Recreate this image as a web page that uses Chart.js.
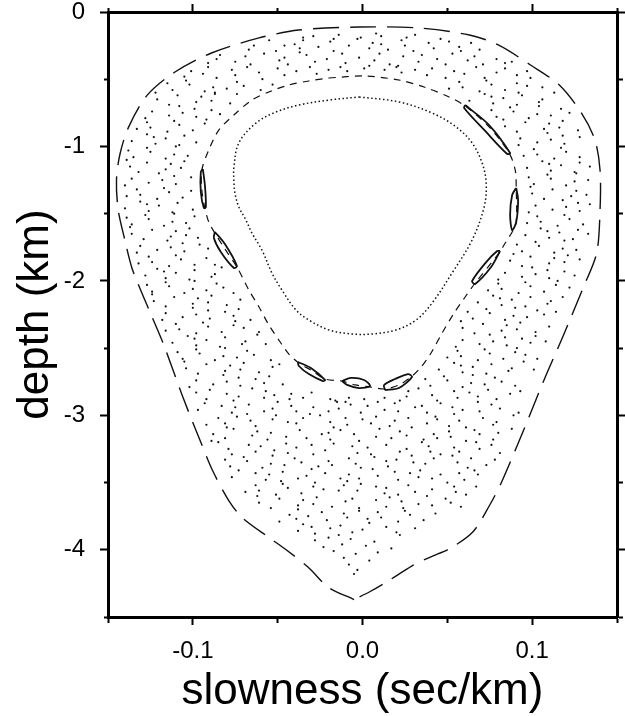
<!DOCTYPE html>
<html><head><meta charset="utf-8">
<script src="https://cdn.jsdelivr.net/npm/chart.js@4.4.1/dist/chart.umd.min.js"></script>
<style>html,body{margin:0;padding:0;background:#fff;}canvas{display:block;}</style>
</head><body>
<canvas id="c" width="625" height="716"></canvas>
<script>
// ---- axis ticks / labels ----
const xLabelValues = [-0.1, 0.0, 0.1];
const xLabelTexts = ['-0.1', '0.0', '0.1'];
const yLabelValues = [0, -1, -2, -3, -4];
const yLabelTexts = ['0', '-1', '-2', '-3', '-4'];

// ---- outermost torus (slowness, depth) ----
const outerCurve = [[-0.005,-4.37],[-0.02,-4.28],[-0.032,-4.13],[-0.045,-4.0],[-0.055,-3.91],[-0.071,-3.76],[-0.079,-3.63],[-0.088,-3.42],[-0.095,-3.21],[-0.106,-2.86],[-0.117,-2.48],[-0.125,-2.24],[-0.132,-2.03],[-0.136,-1.9],[-0.14,-1.7],[-0.144,-1.47],[-0.145,-1.25],[-0.143,-1.06],[-0.138,-0.86],[-0.127,-0.62],[-0.111,-0.45],[-0.089,-0.305],[-0.061,-0.193],[-0.0375,-0.134],[-0.002,-0.112],[0.033,-0.119],[0.063,-0.171],[0.08,-0.245],[0.099,-0.394],[0.116,-0.543],[0.129,-0.751],[0.137,-0.952],[0.14,-1.175],[0.14,-1.473],[0.138,-1.793],[0.13,-2.053],[0.118,-2.417],[0.107,-2.737],[0.095,-3.109],[0.082,-3.496],[0.075,-3.667],[0.065,-3.868],[0.051,-3.994],[0.04,-4.054],[0.029,-4.121],[0.016,-4.225],[0.004,-4.314],[-0.005,-4.37]];

// ---- resonance ring through the island chain ----
const ringCurve = [[-0.0198,-0.491],[0.0009,-0.476],[0.0215,-0.506],[0.0363,-0.558],[0.051,-0.632],[0.0605,-0.699],[0.0746,-0.855],[0.0864,-1.049],[0.09,-1.175],[0.0906,-1.309],[0.0906,-1.562],[0.0882,-1.636],[0.0841,-1.718],[0.0805,-1.793],[0.0664,-2.016],[0.0605,-2.12],[0.054,-2.239],[0.0469,-2.388],[0.0404,-2.536],[0.0345,-2.641],[0.0286,-2.715],[0.0215,-2.774],[0.0133,-2.804],[0.0044,-2.789],[-0.0044,-2.774],[-0.0121,-2.745],[-0.0221,-2.73],[-0.0304,-2.663],[-0.0375,-2.611],[-0.0434,-2.544],[-0.0481,-2.462],[-0.0552,-2.328],[-0.061,-2.194],[-0.067,-2.068],[-0.074,-1.897],[-0.0811,-1.763],[-0.087,-1.644],[-0.0906,-1.562],[-0.0929,-1.458],[-0.0947,-1.324],[-0.0947,-1.175],[-0.0906,-1.026],[-0.0847,-0.878],[-0.0758,-0.766],[-0.0652,-0.655],[-0.0552,-0.595],[-0.0434,-0.543],[-0.0316,-0.513],[-0.0198,-0.491]];

// ---- islands ----
const islands = [
 [[0.0906,-1.309],[0.0917,-1.398],[0.0906,-1.562],[0.0882,-1.622],[0.087,-1.51],[0.0882,-1.361],[0.0906,-1.309]],
 [[0.0811,-1.778],[0.0758,-1.897],[0.0664,-2.023],[0.0646,-2.001],[0.0729,-1.86],[0.0794,-1.778],[0.0811,-1.778]],
 [[0.0133,-2.812],[0.0215,-2.797],[0.0292,-2.715],[0.0268,-2.693],[0.0192,-2.73],[0.0127,-2.775],[0.0133,-2.812]],
 [[-0.0121,-2.745],[-0.0068,-2.722],[0.0009,-2.737],[0.0044,-2.782],[-0.0021,-2.797],[-0.0091,-2.774],[-0.0121,-2.745]],
 [[-0.0381,-2.603],[-0.0304,-2.648],[-0.0221,-2.737],[-0.0233,-2.745],[-0.0316,-2.693],[-0.0375,-2.633],[-0.0381,-2.603]],
 [[-0.087,-1.636],[-0.0811,-1.726],[-0.074,-1.889],[-0.0758,-1.904],[-0.0835,-1.785],[-0.0876,-1.681],[-0.087,-1.636]],
 [[-0.0941,-1.168],[-0.0929,-1.287],[-0.0923,-1.45],[-0.0935,-1.458],[-0.0953,-1.339],[-0.0953,-1.19],[-0.0941,-1.168]],
 [[0.0605,-0.692],[0.0746,-0.841],[0.087,-1.049],[0.0853,-1.056],[0.0723,-0.885],[0.0599,-0.714],[0.0605,-0.692]]
];

// ---- innermost torus ----
const innerCurve = [[-0.002,-0.632],[0.0215,-0.669],[0.041,-0.751],[0.0552,-0.855],[0.0646,-0.974],[0.0705,-1.123],[0.0729,-1.272],[0.0717,-1.45],[0.0646,-1.696],[0.0528,-1.941],[0.041,-2.165],[0.0316,-2.291],[0.0198,-2.365],[0.0056,-2.395],[-0.0062,-2.395],[-0.0198,-2.365],[-0.0316,-2.291],[-0.0392,-2.217],[-0.0475,-2.068],[-0.0534,-1.941],[-0.0593,-1.77],[-0.0652,-1.644],[-0.0687,-1.547],[-0.0729,-1.45],[-0.0752,-1.346],[-0.0758,-1.25],[-0.0758,-1.153],[-0.0729,-0.974],[-0.0628,-0.826],[-0.051,-0.744],[-0.0375,-0.692],[-0.0198,-0.655],[-0.002,-0.632]];

// ---- chaotic sea (slowness, depth) ----
const seaPoints = [
[-.035,-.19],[-.029,-.18],[-.017,-.20],[-.014,-.17],[-.001,-.19],[.008,-.16],[.011,-.18],[.026,-.19],[.031,-.17],[.046,-.20],
[-.067,-.28],[-.064,-.25],[-.055,-.21],[-.051,-.29],[-.040,-.24],[-.037,-.27],[-.035,-.21],[-.026,-.26],[-.019,-.22],[-.017,-.29],[-.008,-.25],[-.003,-.20],[.004,-.27],[.006,-.23],[.015,-.28],[.023,-.21],[.025,-.25],[.030,-.29],[.039,-.23],[.042,-.27],[.051,-.22],[.057,-.26],[.058,-.29],[.064,-.23],[.069,-.28],[-.046,-.25],[.011,-.24],
[-.091,-.38],[-.086,-.35],[-.084,-.32],[-.075,-.37],[-.069,-.33],[-.066,-.39],[-.058,-.31],[-.049,-.36],[-.046,-.34],[-.044,-.39],[-.033,-.32],[-.028,-.37],[-.021,-.35],[-.012,-.31],[-.010,-.38],[-.002,-.34],[.007,-.36],[.010,-.31],[.016,-.39],[.024,-.33],[.033,-.37],[.035,-.32],[.044,-.35],[.049,-.39],[.053,-.31],[.062,-.36],[.066,-.33],[.071,-.39],[.079,-.35],[.084,-.38],[.088,-.37],[-.037,-.30],[.021,-.40],
[-.105,-.48],[-.101,-.44],[-.094,-.46],[-.091,-.41],[-.086,-.49],[-.077,-.43],[-.075,-.47],[-.068,-.41],[-.061,-.45],[-.059,-.50],[-.050,-.42],[-.046,-.47],[-.039,-.44],[-.031,-.41],[-.027,-.46],[-.020,-.43],[-.013,-.41],[-.009,-.44],[.001,-.42],[.004,-.40],[.013,-.43],[.020,-.41],[.023,-.45],[.031,-.43],[.038,-.47],[.041,-.42],[.049,-.49],[.054,-.44],[.060,-.46],[.067,-.41],[.072,-.49],[.079,-.45],[.084,-.42],[.091,-.47],[.097,-.44],[.099,-.49],
[-.115,-.53],[-.112,-.58],[-.104,-.51],[-.102,-.54],[-.093,-.59],[-.088,-.56],[-.087,-.60],[-.080,-.57],[-.074,-.52],[-.070,-.55],[-.060,-.58],[-.053,-.54],
[.051,-.57],[.057,-.52],[.059,-.56],[.069,-.59],[.073,-.51],[.076,-.54],[.084,-.58],[.091,-.53],[.092,-.60],[.097,-.55],[.106,-.56],
[-.122,-.60],[-.121,-.65],[-.114,-.69],[-.109,-.62],[-.098,-.67],[-.095,-.63],[-.089,-.66],[-.087,-.61],[-.078,-.68],[-.074,-.61],
[.063,-.66],[.072,-.61],[.076,-.63],[.077,-.68],[.083,-.64],[.091,-.69],[.094,-.62],[.104,-.67],[.106,-.65],[.113,-.60],
[-.128,-.79],[-.124,-.74],[-.114,-.77],[-.108,-.70],[-.106,-.75],[-.099,-.72],[-.098,-.78],[-.089,-.73],[-.084,-.76],
[.076,-.73],[.079,-.78],[.087,-.71],[.089,-.74],[.098,-.79],[.103,-.76],[.104,-.70],[.111,-.77],[.117,-.72],[.122,-.75],
[-.133,-.87],[-.127,-.82],[-.125,-.86],[-.115,-.89],[-.111,-.81],[-.108,-.84],[-.100,-.88],[-.093,-.83],[-.092,-.80],
[.083,-.80],[.084,-.85],[.091,-.89],[.096,-.82],[.107,-.87],[.110,-.83],[.116,-.86],[.118,-.81],[.127,-.88],
[-.136,-.96],[-.127,-.91],[-.123,-.93],[-.122,-.98],[-.116,-.94],[-.108,-.99],[-.105,-.92],[-.098,-.97],
[.092,-.99],[.093,-.94],[.103,-.97],[.109,-.90],[.111,-.95],[.118,-.92],[.119,-.98],[.128,-.93],
[-.138,-1.03],[-.135,-1.08],[-.127,-1.01],[-.125,-1.04],[-.116,-1.09],[-.111,-1.06],[-.110,-1.00],[-.103,-1.07],
[.095,-1.07],[.101,-1.02],[.103,-1.06],[.113,-1.09],[.117,-1.01],[.120,-1.04],[.128,-1.08],
[-.139,-1.10],[-.137,-1.15],[-.132,-1.19],[-.127,-1.12],[-.116,-1.17],[-.113,-1.13],[-.107,-1.16],[-.105,-1.11],
[.097,-1.16],[.106,-1.11],[.110,-1.13],[.111,-1.18],[.117,-1.14],[.125,-1.19],[.128,-1.12],[.134,-1.15],
[-.140,-1.29],[-.136,-1.24],[-.126,-1.27],[-.120,-1.20],[-.118,-1.25],[-.111,-1.22],[-.110,-1.28],[-.101,-1.23],
[.098,-1.23],[.101,-1.28],[.109,-1.21],[.111,-1.24],[.120,-1.29],[.125,-1.26],[.126,-1.20],[.133,-1.25],
[-.139,-1.37],[-.133,-1.32],[-.131,-1.36],[-.121,-1.39],[-.117,-1.31],[-.114,-1.34],[-.106,-1.38],[-.101,-1.33],
[.099,-1.30],[.100,-1.35],[.107,-1.39],[.112,-1.32],[.123,-1.37],[.126,-1.33],[.132,-1.36],
[-.140,-1.46],[-.131,-1.41],[-.127,-1.43],[-.126,-1.48],[-.120,-1.44],[-.112,-1.49],[-.109,-1.42],[-.100,-1.47],
[.098,-1.49],[.102,-1.44],[.112,-1.47],[.118,-1.40],[.120,-1.45],[.127,-1.42],[.128,-1.48],[.134,-1.43],
[-.139,-1.53],[-.136,-1.58],[-.128,-1.51],[-.126,-1.54],[-.117,-1.59],[-.112,-1.56],[-.111,-1.50],[-.104,-1.57],[-.099,-1.52],
[.097,-1.57],[.103,-1.52],[.105,-1.56],[.115,-1.59],[.119,-1.51],[.122,-1.54],[.130,-1.58],
[-.137,-1.60],[-.136,-1.65],[-.129,-1.69],[-.124,-1.62],[-.113,-1.67],[-.110,-1.63],[-.104,-1.66],[-.102,-1.61],[-.097,-1.68],
[.096,-1.66],[.105,-1.61],[.109,-1.63],[.110,-1.68],[.116,-1.64],[.124,-1.69],[.127,-1.62],[.133,-1.65],
[-.133,-1.79],[-.131,-1.74],[-.121,-1.77],[-.115,-1.70],[-.113,-1.75],[-.106,-1.72],[-.105,-1.78],[-.096,-1.73],[-.091,-1.76],
[.091,-1.73],[.094,-1.78],[.102,-1.71],[.104,-1.74],[.113,-1.79],[.118,-1.76],[.119,-1.70],[.126,-1.77],
[-.132,-1.87],[-.126,-1.82],[-.124,-1.86],[-.114,-1.89],[-.110,-1.81],[-.107,-1.84],[-.099,-1.88],[-.092,-1.83],[-.087,-1.88],
[.089,-1.80],[.087,-1.85],[.094,-1.89],[.099,-1.82],[.110,-1.87],[.113,-1.83],[.119,-1.86],[.121,-1.81],[.128,-1.84],
[-.128,-1.96],[-.121,-1.91],[-.117,-1.93],[-.116,-1.98],[-.110,-1.94],[-.102,-1.99],[-.099,-1.92],[-.089,-1.97],[-.087,-1.95],[-.083,-1.90],
[.080,-1.99],[.084,-1.94],[.094,-1.97],[.100,-1.90],[.102,-1.95],[.109,-1.92],[.110,-1.98],[.119,-1.93],[.125,-1.96],
[-.127,-2.03],[-.124,-2.08],[-.116,-2.01],[-.114,-2.04],[-.105,-2.09],[-.100,-2.06],[-.099,-2.00],[-.092,-2.07],[-.086,-2.02],[-.082,-2.05],[-.076,-2.09],
[.074,-2.07],[.080,-2.02],[.082,-2.06],[.092,-2.09],[.096,-2.01],[.099,-2.04],[.107,-2.08],[.114,-2.03],[.115,-2.00],[.122,-2.05],
[-.124,-2.10],[-.123,-2.15],[-.116,-2.19],[-.111,-2.12],[-.100,-2.17],[-.097,-2.13],[-.091,-2.16],[-.089,-2.11],[-.080,-2.18],[-.072,-2.14],
[.068,-2.16],[.077,-2.11],[.081,-2.13],[.082,-2.18],[.088,-2.14],[.096,-2.19],[.099,-2.12],[.109,-2.17],[.111,-2.15],[.118,-2.12],
[-.118,-2.29],[-.116,-2.24],[-.106,-2.27],[-.100,-2.20],[-.098,-2.25],[-.091,-2.22],[-.090,-2.28],[-.081,-2.23],[-.076,-2.26],[-.073,-2.21],[-.066,-2.29],
[.062,-2.23],[.065,-2.28],[.073,-2.21],[.075,-2.24],[.084,-2.29],[.089,-2.26],[.090,-2.20],[.097,-2.27],[.103,-2.22],[.107,-2.25],[.114,-2.23],
[-.116,-2.37],[-.110,-2.32],[-.108,-2.36],[-.098,-2.39],[-.094,-2.31],[-.091,-2.34],[-.083,-2.38],[-.076,-2.33],[-.075,-2.30],[-.070,-2.35],[-.061,-2.38],
[.058,-2.30],[.059,-2.35],[.066,-2.39],[.071,-2.32],[.082,-2.37],[.085,-2.33],[.091,-2.36],[.093,-2.31],[.102,-2.38],[.110,-2.34],
[-.112,-2.46],[-.103,-2.41],[-.099,-2.43],[-.098,-2.48],[-.092,-2.44],[-.084,-2.49],[-.081,-2.42],[-.071,-2.47],[-.069,-2.45],[-.062,-2.40],[-.057,-2.47],
[.055,-2.49],[.059,-2.44],[.069,-2.47],[.075,-2.40],[.077,-2.45],[.084,-2.42],[.085,-2.48],[.094,-2.43],[.099,-2.46],[.102,-2.41],[.108,-2.45],
[-.109,-2.53],[-.106,-2.58],[-.098,-2.51],[-.096,-2.54],[-.087,-2.59],[-.082,-2.56],[-.081,-2.50],[-.074,-2.57],[-.068,-2.52],[-.064,-2.55],[-.054,-2.59],
[.050,-2.57],[.056,-2.52],[.058,-2.56],[.068,-2.59],[.072,-2.51],[.075,-2.54],[.083,-2.58],[.090,-2.53],[.091,-2.50],[.096,-2.55],[.103,-2.58],
[-.105,-2.60],[-.104,-2.65],[-.097,-2.69],[-.092,-2.62],[-.081,-2.67],[-.078,-2.63],[-.072,-2.66],[-.070,-2.61],[-.061,-2.68],[-.053,-2.64],[-.049,-2.62],
[.045,-2.66],[.054,-2.61],[.058,-2.63],[.059,-2.68],[.065,-2.64],[.073,-2.69],[.076,-2.62],[.086,-2.67],[.088,-2.65],[.095,-2.60],[.101,-2.66],
[-.102,-2.79],[-.098,-2.74],[-.088,-2.77],[-.082,-2.70],[-.080,-2.75],[-.073,-2.72],[-.072,-2.78],[-.063,-2.73],[-.058,-2.76],[-.055,-2.71],[-.047,-2.77],
[.037,-2.73],[.040,-2.78],[.048,-2.71],[.050,-2.74],[.059,-2.79],[.064,-2.76],[.065,-2.70],[.072,-2.77],[.078,-2.72],[.082,-2.75],[.090,-2.78],
[-.098,-2.83],[-.092,-2.88],[-.090,-2.81],[-.080,-2.84],[-.076,-2.89],[-.073,-2.86],[-.065,-2.80],[-.058,-2.87],[-.057,-2.82],[-.052,-2.85],[-.043,-2.88],[-.042,-2.84],[-.035,-2.87],[-.030,-2.83],[-.019,-2.88],[-.016,-2.89],[-.010,-2.90],[-.008,-2.87],[.001,-2.88],[.009,-2.90],[.013,-2.87],[.022,-2.89],[.026,-2.86],[.027,-2.82],[.033,-2.80],[.041,-2.85],[.044,-2.89],[.054,-2.82],[.056,-2.87],[.063,-2.83],[.068,-2.86],[.074,-2.81],[.079,-2.88],[.087,-2.84],[.093,-2.82],
[-.097,-2.96],[-.093,-2.91],[-.083,-2.93],[-.077,-2.98],[-.075,-2.94],[-.068,-2.99],[-.067,-2.92],[-.058,-2.97],[-.053,-2.95],[-.050,-2.90],[-.042,-2.93],[-.039,-2.97],[-.031,-2.99],[-.029,-2.94],[-.020,-2.97],[-.015,-2.90],[-.014,-2.95],[-.007,-2.92],[-.001,-2.98],[.003,-2.93],[.013,-2.96],[.019,-2.91],[.021,-2.97],[.031,-2.94],[.035,-2.93],[.038,-2.98],[.046,-2.91],[.053,-2.94],[.054,-2.99],[.059,-2.96],[.068,-2.90],[.069,-2.97],[.076,-2.92],[.081,-2.95],[.092,-2.98],
[-.092,-3.07],[-.085,-3.02],[-.081,-3.06],[-.080,-3.09],[-.074,-3.01],[-.066,-3.04],[-.063,-3.08],[-.053,-3.03],[-.051,-3.00],[-.044,-3.05],[-.039,-3.06],[-.035,-3.02],[-.025,-3.00],[-.019,-3.05],[-.017,-3.09],[-.010,-3.02],[-.009,-3.07],[.000,-3.03],[.005,-3.06],[.008,-3.01],[.016,-3.08],[.019,-3.04],[.027,-3.02],[.029,-3.09],[.038,-3.06],[.043,-3.01],[.044,-3.03],[.051,-3.08],[.057,-3.04],[.061,-3.09],[.071,-3.02],[.077,-3.07],[.079,-3.05],[.089,-3.00],
[-.089,-3.19],[-.088,-3.14],[-.081,-3.17],[-.076,-3.10],[-.065,-3.15],[-.062,-3.12],[-.056,-3.18],[-.054,-3.13],[-.045,-3.16],[-.037,-3.11],[-.033,-3.17],[-.024,-3.14],[-.020,-3.13],[-.019,-3.18],[-.013,-3.11],[-.005,-3.14],[-.002,-3.19],[.008,-3.16],[.010,-3.10],[.017,-3.17],[.022,-3.12],[.026,-3.15],[.036,-3.18],[.042,-3.14],[.044,-3.17],[.051,-3.12],[.052,-3.16],[.061,-3.19],[.066,-3.11],[.069,-3.14],[.077,-3.18],[.080,-3.13],[.088,-3.10],
[-.085,-3.20],[-.079,-3.25],[-.077,-3.29],[-.067,-3.22],[-.063,-3.27],[-.060,-3.23],[-.052,-3.26],[-.045,-3.21],[-.044,-3.28],[-.039,-3.24],[-.030,-3.22],[-.029,-3.29],[-.022,-3.26],[-.017,-3.21],[-.006,-3.23],[-.003,-3.28],[.003,-3.24],[.005,-3.29],[.014,-3.22],[.022,-3.27],[.026,-3.25],[.035,-3.20],[.039,-3.23],[.040,-3.27],[.046,-3.29],[.054,-3.24],[.057,-3.27],[.067,-3.20],[.069,-3.25],[.076,-3.22],[.081,-3.28],
[-.081,-3.33],[-.078,-3.38],[-.070,-3.31],[-.068,-3.34],[-.059,-3.39],[-.054,-3.36],[-.053,-3.30],[-.046,-3.37],[-.040,-3.32],[-.036,-3.35],[-.026,-3.38],[-.020,-3.34],[-.018,-3.37],[-.008,-3.32],[-.004,-3.36],[-.001,-3.39],[.007,-3.31],[.014,-3.34],[.015,-3.38],[.020,-3.33],[.029,-3.30],[.030,-3.35],[.037,-3.36],[.042,-3.32],[.053,-3.30],[.056,-3.35],[.062,-3.39],[.064,-3.32],[.073,-3.37],[.078,-3.33],
[-.077,-3.46],[-.073,-3.41],[-.063,-3.43],[-.057,-3.48],[-.055,-3.44],[-.048,-3.49],[-.047,-3.42],[-.038,-3.47],[-.033,-3.45],[-.030,-3.40],[-.022,-3.43],[-.013,-3.47],[-.009,-3.49],[-.008,-3.44],[-.002,-3.47],[.006,-3.40],[.009,-3.45],[.019,-3.42],[.021,-3.48],[.028,-3.43],[.033,-3.46],[.034,-3.41],[.041,-3.47],[.046,-3.44],[.057,-3.43],[.060,-3.48],[.066,-3.41],[.068,-3.44],
[-.069,-3.57],[-.063,-3.52],[-.061,-3.56],[-.051,-3.59],[-.047,-3.51],[-.044,-3.54],[-.036,-3.58],[-.029,-3.53],[-.028,-3.50],[-.023,-3.55],[-.014,-3.56],[-.011,-3.52],[-.003,-3.56],[-.001,-3.51],[.008,-3.53],[.013,-3.58],[.014,-3.54],[.021,-3.59],[.027,-3.52],[.031,-3.57],[.041,-3.55],[.050,-3.50],[.054,-3.53],[.055,-3.57],[.061,-3.59],[.067,-3.53],
[-.062,-3.60],[-.061,-3.65],[-.054,-3.69],[-.049,-3.62],[-.038,-3.67],[-.035,-3.63],[-.029,-3.66],[-.027,-3.61],[-.018,-3.68],[-.010,-3.64],[-.006,-3.62],[-.002,-3.69],[.008,-3.63],[.014,-3.68],[.016,-3.61],[.023,-3.64],[.024,-3.69],[.033,-3.66],[.038,-3.60],[.041,-3.67],[.049,-3.62],[.052,-3.65],[.058,-3.68],
[-.049,-3.79],[-.043,-3.74],[-.039,-3.77],[-.038,-3.70],[-.032,-3.75],[-.024,-3.72],[-.021,-3.78],[-.011,-3.73],[-.009,-3.76],[-.002,-3.71],[.003,-3.77],[.009,-3.72],[.011,-3.76],[.021,-3.79],[.025,-3.71],[.028,-3.74],[.036,-3.78],[.043,-3.73],
[-.038,-3.86],[-.035,-3.81],[-.030,-3.83],[-.028,-3.88],[-.019,-3.84],[-.014,-3.89],[-.013,-3.82],[-.006,-3.87],[.000,-3.85],[.004,-3.80],[.014,-3.83],[.020,-3.87],[.022,-3.89],[.031,-3.84],
[-.028,-3.93],[-.023,-3.98],[-.020,-3.91],[-.012,-3.96],[-.007,-3.92],[.002,-3.97],[.007,-3.94],[.017,-3.99],
[-.017,-4.01],[-.011,-4.06],[-.004,-4.03],[.004,-4.08],[.009,-4.02],
[-.008,-4.11],[-.003,-4.15],[-.005,-4.18]
];

const FONT = "'Liberation Sans', Arial, Helvetica, sans-serif";
const toXY = arr => arr.map(p => ({x: p[0], y: p[1]}));
function labelFor(v, vals, texts) {
  for (let i = 0; i < vals.length; i++) if (Math.abs(vals[i] - v) < 1e-6) return texts[i];
  return '';
}
const isMajor = (v, vals) => vals.some(t => Math.abs(t - v) < 1e-6);

const lineDs = (data, width, dash, tension) => ({
  data: toXY(data), showLine: true, pointRadius: 0, borderColor: '#111', borderWidth: width,
  borderDash: dash, tension: tension, fill: false, xAxisID: 'x', yAxisID: 'y'
});

const datasets = [
  { data: toXY(seaPoints), showLine: false, pointRadius: 1.1, pointStyle: 'circle',
    backgroundColor: '#111', borderWidth: 0, xAxisID: 'x', yAxisID: 'y' },
  lineDs(outerCurve, 1.4, [26, 11], 0.3),
  lineDs(ringCurve, 1.2, [7, 6], 0.3),
  lineDs(innerCurve, 1.5, [1.5, 2.5], 0.35),
  ...islands.map(isl => lineDs(isl, 1.8, [], 0.3))
];

const tickGrid = (majorVals, minorDash) => ({
  drawOnChartArea: false, drawTicks: true, tickLength: 8, tickWidth: 2, tickColor: '#000',
  tickBorderDash: c => (c.tick && isMajor(c.tick.value, majorVals)) ? [] : minorDash
});
const border = { display: true, color: '#000', width: 3 };
const noPad = s => { s.paddingLeft = 0; s.paddingRight = 0; s.paddingTop = 0; s.paddingBottom = 0; };

new Chart(document.getElementById('c'), {
  type: 'scatter',
  data: { datasets },
  options: {
    responsive: false, animation: false, events: [],
    layout: { padding: 0 },
    plugins: { legend: { display: false }, tooltip: { enabled: false } },
    scales: {
      x: {
        type: 'linear', position: 'bottom', min: -0.15, max: 0.15,
        afterFit: s => { s.height = 99; noPad(s); },
        ticks: { stepSize: 0.05, autoSkip: false, maxRotation: 0, padding: 12, color: '#000',
          font: { family: FONT, size: 24, lineHeight: 1.2 },
          callback: v => labelFor(v, xLabelValues, xLabelTexts) },
        grid: tickGrid(xLabelValues, [4, 30]),
        border,
        title: { display: true, text: 'slowness (sec/km)', color: '#000',
          font: { family: FONT, size: 44, lineHeight: 1 }, padding: { top: 0, bottom: 2 } }
      },
      x2: {
        type: 'linear', position: 'top', min: -0.15, max: 0.15,
        afterFit: s => { s.height = 12; noPad(s); },
        ticks: { display: false, stepSize: 0.05, autoSkip: false },
        grid: tickGrid(xLabelValues, [0, 4, 4, 30]),
        border
      },
      y: {
        type: 'linear', position: 'left', min: -4.5, max: 0,
        afterFit: s => { s.width = 108; noPad(s); },
        ticks: { stepSize: 0.5, autoSkip: false, padding: 15, color: '#000',
          font: { family: FONT, size: 24, lineHeight: 1 },
          callback: v => labelFor(v, yLabelValues, yLabelTexts) },
        grid: tickGrid(yLabelValues, [0, 4, 4, 30]),
        border,
        title: { display: true, text: 'depth (km)', color: '#000',
          font: { family: FONT, size: 44, lineHeight: 1 }, padding: { top: 14, bottom: 0 } }
      },
      y2: {
        type: 'linear', position: 'right', min: -4.5, max: 0,
        afterFit: s => { s.width = 8; noPad(s); },
        ticks: { display: false, stepSize: 0.5, autoSkip: false },
        grid: tickGrid(yLabelValues, [4, 30]),
        border
      }
    }
  }
});
</script>
</body></html>
